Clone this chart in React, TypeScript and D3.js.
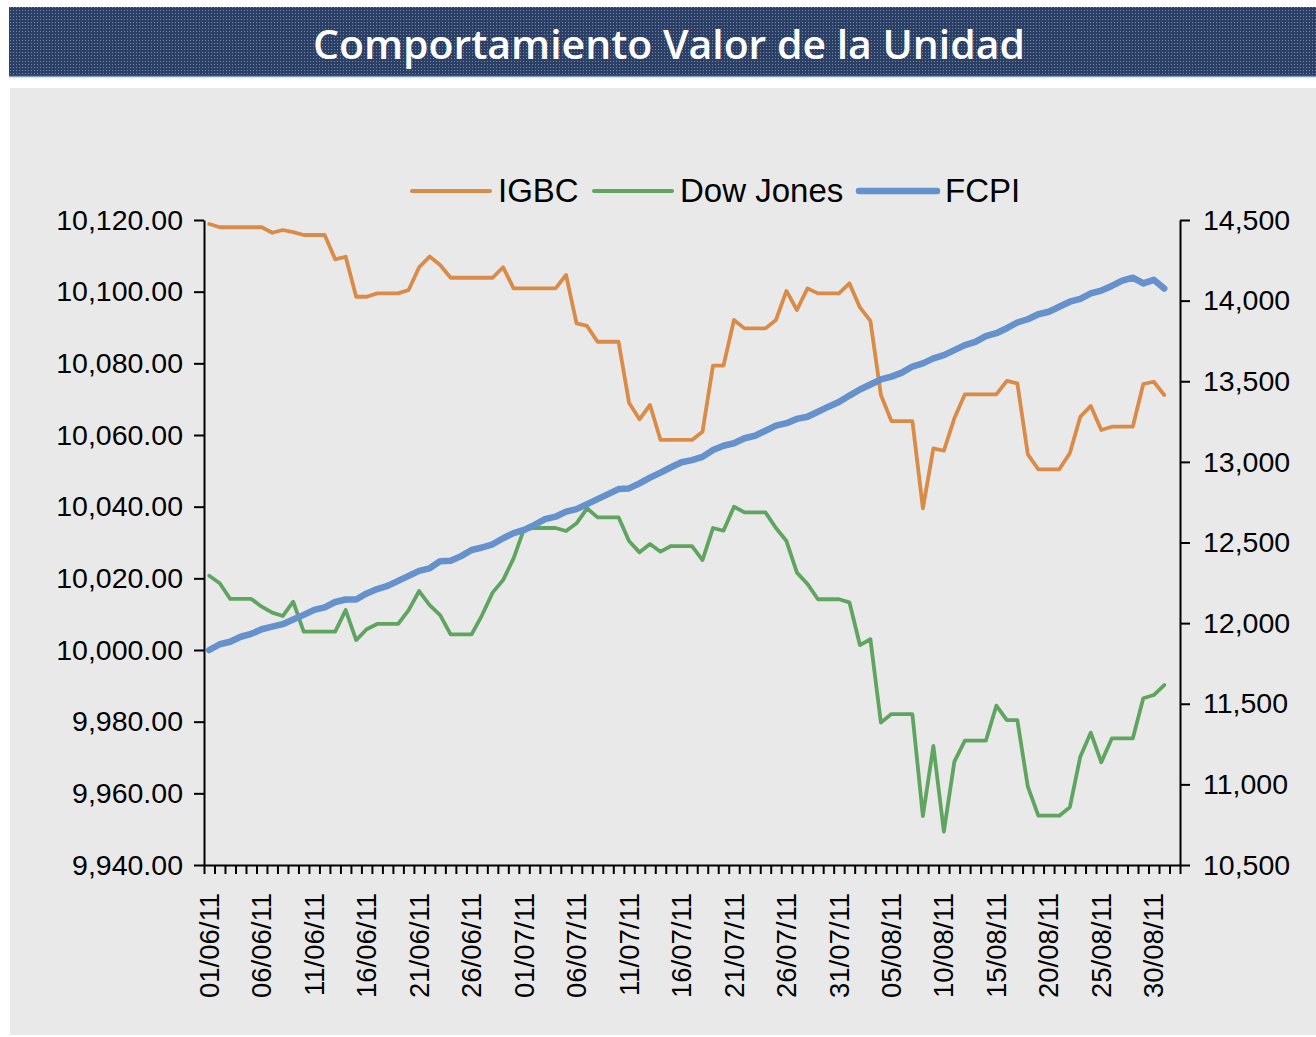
import { useEffect, useRef } from 'react';
import * as d3 from 'd3';

// Daily values, 01/06/2011 - 31/08/2011 (weekends/holidays carry the last close)
const igbc = [
  14475, 14455, 14455, 14455, 14455, 14455, 14421, 14438, 14425, 14407,
  14407, 14407, 14256, 14272, 14024, 14024, 14045, 14045, 14045, 14066,
  14207, 14273, 14221, 14142, 14142, 14142, 14142, 14142, 14207, 14076,
  14076, 14076, 14076, 14076, 14159, 13859, 13843, 13745, 13745, 13745,
  13367, 13264, 13353, 13136, 13136, 13136, 13136, 13187, 13597, 13597,
  13880, 13828, 13828, 13828, 13880, 14060, 13942, 14076, 14045, 14045,
  14045, 14107, 13958, 13874, 13415, 13253, 13253, 13253, 12712, 13084,
  13069, 13270, 13419, 13419, 13419, 13419, 13502, 13487, 13047, 12954,
  12954, 12954, 13053, 13280, 13347, 13198, 13218, 13218, 13218, 13483,
  13497, 13415,
];

const dowJones = [
  12294, 12247, 12150, 12150, 12150, 12102, 12065, 12044, 12133, 11947,
  11947, 11947, 11947, 12081, 11895, 11962, 11995, 11995, 11995, 12081,
  12199, 12112, 12050, 11930, 11930, 11930, 12050, 12189, 12267, 12402,
  12585, 12590, 12590, 12590, 12571, 12619, 12712, 12656, 12656, 12656,
  12509, 12439, 12491, 12443, 12478, 12478, 12478, 12391, 12590, 12573,
  12722, 12687, 12687, 12687, 12590, 12509, 12313, 12243, 12148, 12148,
  12148, 12129, 11864, 11900, 11383, 11436, 11436, 11436, 10804, 11238,
  10707, 11141, 11271, 11271, 11271, 11488, 11399, 11399, 10986, 10806,
  10806, 10806, 10858, 11172, 11321, 11137, 11285, 11285, 11285, 11534,
  11554, 11616,
];

const fcpi = [
  10000.0, 10001.6, 10002.3, 10003.7, 10004.5, 10005.8, 10006.5, 10007.2, 10008.5, 10009.8,
  10011.2, 10011.9, 10013.4, 10014.1, 10014.1, 10015.8, 10017.0, 10017.9, 10019.3, 10020.7,
  10022.1, 10022.8, 10024.8, 10024.9, 10026.2, 10027.9, 10028.6, 10029.5, 10031.2, 10032.6,
  10033.5, 10034.9, 10036.5, 10037.2, 10038.6, 10039.3, 10040.7, 10042.1, 10043.5, 10044.9,
  10045.1, 10046.5, 10048.1, 10049.5, 10051.0, 10052.4, 10053.0, 10053.9, 10055.8, 10057.0,
  10057.7, 10059.1, 10059.8, 10061.2, 10062.6, 10063.3, 10064.5, 10065.1, 10066.5, 10067.9,
  10069.2, 10071.0, 10072.7, 10074.1, 10075.5, 10076.3, 10077.4, 10079.1, 10080.0, 10081.4,
  10082.3, 10083.7, 10085.1, 10086.0, 10087.6, 10088.4, 10089.8, 10091.4, 10092.3, 10093.7,
  10094.4, 10095.8, 10097.2, 10098.0, 10099.5, 10100.3, 10101.6, 10103.1, 10103.9, 10102.3,
  10103.3, 10100.9,
];

const dateLabels = [
  '01/06/11', '06/06/11', '11/06/11', '16/06/11', '21/06/11', '26/06/11',
  '01/07/11', '06/07/11', '11/07/11', '16/07/11', '21/07/11', '26/07/11',
  '31/07/11', '05/08/11', '10/08/11', '15/08/11', '20/08/11', '25/08/11',
  '30/08/11',
];

const leftTicks = [9940, 9960, 9980, 10000, 10020, 10040, 10060, 10080, 10100, 10120];
const rightTicks = [10500, 11000, 11500, 12000, 12500, 13000, 13500, 14000, 14500];

const legendNames = ['IGBC', 'Dow Jones', 'FCPI'];
const colors = ['#d98b47', '#5fa55f', '#6591cd'];

const WIDTH = 1316;
const HEIGHT = 1037;
const plot = { left: 204, right: 1180, top: 220, bottom: 865 };
const FONT = '"Liberation Sans", Arial, sans-serif';

export default function App() {
  const svgRef = useRef<SVGSVGElement>(null);

  useEffect(() => {
    if (!svgRef.current) return;
    const svg = d3.select(svgRef.current);
    svg.selectAll('*').remove();

    const parse = d3.utcParse('%d/%m/%y');
    const start = new Date(Date.UTC(2011, 5, 1));
    const dates = d3.utcDay.range(start, new Date(Date.UTC(2011, 8, 1)));
    const mid = (d: Date) => d3.utcHour.offset(d, 12);

    const x = d3.scaleUtc()
      .domain([start, new Date(Date.UTC(2011, 8, 2))])
      .range([plot.left, plot.right]);
    const yLeft = d3.scaleLinear().domain([9940, 10120]).range([plot.bottom, plot.top]);
    const yRight = d3.scaleLinear().domain([10500, 14500]).range([plot.bottom, plot.top]);

    // Title banner
    const defs = svg.append('defs');
    const pat = defs.append('pattern')
      .attr('id', 'banner-dots')
      .attr('width', 3)
      .attr('height', 3)
      .attr('patternUnits', 'userSpaceOnUse');
    pat.append('rect').attr('width', 3).attr('height', 3).attr('fill', '#2b4064');
    pat.append('rect').attr('x', 1).attr('y', 1).attr('width', 1).attr('height', 1).attr('fill', '#7487aa');

    svg.append('rect')
      .attr('x', 9).attr('y', 7).attr('width', WIDTH - 9).attr('height', 70)
      .attr('fill', 'url(#banner-dots)');
    svg.append('line')
      .attr('x1', 9).attr('x2', WIDTH).attr('y1', 76.5).attr('y2', 76.5)
      .attr('stroke', '#7b9bc9').attr('stroke-width', 1.5);
    svg.append('text')
      .attr('x', 669).attr('y', 59)
      .attr('text-anchor', 'middle')
      .attr('fill', 'white')
      .attr('font-family', '"Open Sans", "DejaVu Sans", sans-serif')
      .attr('font-weight', 600)
      .attr('font-size', 40)
      .attr('textLength', 712)
      .attr('lengthAdjust', 'spacingAndGlyphs')
      .text('Comportamiento Valor de la Unidad');

    // Chart panel
    svg.append('rect')
      .attr('x', 10).attr('y', 88).attr('width', WIDTH - 10).attr('height', 947)
      .attr('fill', '#e9e9e9');

    // Left axis (FCPI)
    svg.append('g')
      .attr('transform', `translate(${plot.left},0)`)
      .call(d3.axisLeft(yLeft).tickValues(leftTicks).tickFormat(d3.format(',.2f')).tickSize(10).tickSizeOuter(0).tickPadding(11))
      .call(g => g.selectAll('path, line').attr('stroke', '#000').attr('stroke-width', 2))
      .call(g => g.selectAll('text').attr('font-size', 28.5).attr('font-family', FONT).attr('fill', '#000'));

    // Right axis (IGBC, Dow Jones)
    svg.append('g')
      .attr('transform', `translate(${plot.right},0)`)
      .call(d3.axisRight(yRight).tickValues(rightTicks).tickFormat(d3.format(',')).tickSize(10).tickSizeOuter(0).tickPadding(13))
      .call(g => g.selectAll('path, line').attr('stroke', '#000').attr('stroke-width', 2))
      .call(g => g.selectAll('text').attr('font-size', 28.5).attr('font-family', FONT).attr('fill', '#000'));

    // Bottom axis, one tick per day boundary
    const dayTicks = d3.utcDay.range(start, new Date(Date.UTC(2011, 8, 3)));
    svg.append('g')
      .attr('transform', `translate(0,${plot.bottom})`)
      .call(d3.axisBottom(x).tickValues(dayTicks).tickFormat(() => '').tickSize(9).tickSizeOuter(0))
      .call(g => g.selectAll('path, line').attr('stroke', '#000').attr('stroke-width', 2));

    svg.append('g')
      .selectAll('text')
      .data(dateLabels)
      .join('text')
      .attr('transform', d => `translate(${x(mid(parse(d) as Date))},893) rotate(-90)`)
      .attr('text-anchor', 'end')
      .attr('dy', '0.35em')
      .attr('font-family', FONT)
      .attr('font-size', 27.5)
      .attr('fill', '#000')
      .text(d => d);

    // Lines
    const lineRight = d3.line<number>()
      .x((_, i) => x(mid(dates[i])))
      .y(d => yRight(d));
    const lineLeft = d3.line<number>()
      .x((_, i) => x(mid(dates[i])))
      .y(d => yLeft(d));

    svg.append('path')
      .datum(igbc)
      .attr('fill', 'none')
      .attr('stroke', colors[0])
      .attr('stroke-width', 3.8)
      .attr('stroke-linejoin', 'round')
      .attr('stroke-linecap', 'round')
      .attr('d', lineRight);
    svg.append('path')
      .datum(dowJones)
      .attr('fill', 'none')
      .attr('stroke', colors[1])
      .attr('stroke-width', 3.8)
      .attr('stroke-linejoin', 'round')
      .attr('stroke-linecap', 'round')
      .attr('d', lineRight);
    svg.append('path')
      .datum(fcpi)
      .attr('fill', 'none')
      .attr('stroke', colors[2])
      .attr('stroke-width', 6.5)
      .attr('stroke-linejoin', 'round')
      .attr('stroke-linecap', 'round')
      .attr('d', lineLeft);

    // Legend
    const legendX = [412, 594, 859];
    const legend = svg.append('g');
    legendNames.forEach((name, i) => {
      legend.append('line')
        .attr('x1', legendX[i]).attr('x2', legendX[i] + 78)
        .attr('y1', 191).attr('y2', 191)
        .attr('stroke', colors[i])
        .attr('stroke-width', i === 2 ? 6.5 : 4)
        .attr('stroke-linecap', 'round');
      legend.append('text')
        .attr('x', legendX[i] + 86)
        .attr('y', 202)
        .attr('font-family', FONT)
        .attr('font-size', 33)
        .attr('fill', '#000')
        .text(name);
    });
  }, []);

  return (
    <div style={{ position: 'absolute', left: 0, top: 0 }}>
      <svg ref={svgRef} width={WIDTH} height={HEIGHT} style={{ display: 'block' }} />
    </div>
  );
}
